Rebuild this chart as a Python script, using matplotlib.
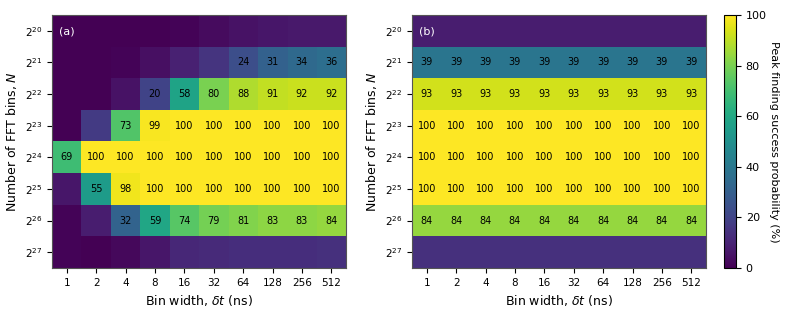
import numpy as np
import matplotlib
matplotlib.use("Agg")
import matplotlib.pyplot as plt

bin_widths = [1, 2, 4, 8, 16, 32, 64, 128, 256, 512]
n_exponents = [20, 21, 22, 23, 24, 25, 26, 27]

success_a = [
    [0, 0, 0, 0, 1, 3, 5, 6, 7, 7],
    [0, 0, 1, 4, 9, 15, 24, 31, 34, 36],
    [0, 0, 5, 20, 58, 80, 88, 91, 92, 92],
    [0, 17, 73, 99, 100, 100, 100, 100, 100, 100],
    [69, 100, 100, 100, 100, 100, 100, 100, 100, 100],
    [6, 55, 98, 100, 100, 100, 100, 100, 100, 100],
    [1, 8, 32, 59, 74, 79, 81, 83, 83, 84],
    [1, 0, 2, 6, 11, 12, 13, 13, 13, 14],
]
success_b_rows = [8, 39, 93, 100, 100, 100, 84, 14]

label_threshold = 20

fig = plt.figure(figsize=(7.93, 3.14), dpi=100)
W, H = 793, 314
ax_a = fig.add_axes([52 / W, 1 - 268 / H, 294 / W, 253 / H])
ax_b = fig.add_axes([412 / W, 1 - 268 / H, 294 / W, 253 / H])
cax = fig.add_axes([724 / W, 1 - 268 / H, 12 / W, 253 / H])

data_a = np.array(success_a, dtype=float)
data_b = np.tile(np.array(success_b_rows, dtype=float)[:, None], (1, len(bin_widths)))

for ax, data, tag in [(ax_a, data_a, "(a)"), (ax_b, data_b, "(b)")]:
    im = ax.imshow(data, cmap="viridis", vmin=0, vmax=100, aspect="auto",
                   interpolation="nearest")
    ax.set_xticks(range(len(bin_widths)))
    ax.set_xticklabels([str(b) for b in bin_widths], fontsize=7.5)
    ax.set_yticks(range(len(n_exponents)))
    ax.set_yticklabels([rf"$2^{{{e}}}$" for e in n_exponents], fontsize=7.5)
    ax.set_xlabel(r"Bin width, $\delta t$ (ns)", fontsize=9)
    ax.set_ylabel(r"Number of FFT bins, $N$", fontsize=9)
    for i in range(data.shape[0]):
        for j in range(data.shape[1]):
            v = data[i, j]
            if v >= label_threshold:
                ax.text(j, i, f"{int(v)}", ha="center", va="center",
                        fontsize=7, color="black")
    ax.text(0.025, 0.955, tag, transform=ax.transAxes, color="white",
            fontsize=8, ha="left", va="top")
    for s in ax.spines.values():
        s.set_color("#555555")

cb = fig.colorbar(im, cax=cax)
cb.set_ticks([0, 20, 40, 60, 80, 100])
cb.ax.tick_params(labelsize=8)
cb.set_label("Peak finding success probability (%)", rotation=270,
             labelpad=9, fontsize=8)

fig.savefig("out.png", dpi=100)
